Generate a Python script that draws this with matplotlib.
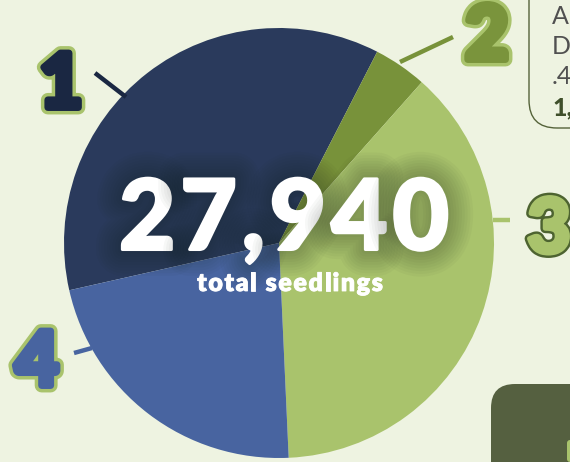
import matplotlib
matplotlib.use("Agg")
import numpy as np
import matplotlib.pyplot as plt
import matplotlib.patheffects as pe
from matplotlib.patches import FancyBboxPatch


# seedling counts per group
groups = ["1", "2", "3", "4"]
seedlings = [10080, 1120, 10540, 6200]
total_label = "27,940"
total_caption = "total seedlings"

colors = ["#2a3a5c", "#78923a", "#a9c36c", "#4864a0"]
label_fill = ["#1a2742", "#7a943c", "#a9c36c", "#4864a0"]
label_edge = ["#a9c36c", "#a9c36c", "#4d6330", "#a9c36c"]
bg = "#eef3e1"

# picture is laid out in pixels: pie centre and radius
W, H = 570, 462
CX, CY, R = 279, 243, 215


def px(x, y):
    # pixel position -> pie data units
    return (x - CX) / R, (CY - y) / R


def tracked_text(ax, xc, yc, s, track, **kw):
    # draw a string centred on (xc, yc) pixels with extra letter spacing
    rend = ax.figure.canvas.get_renderer()
    widths = []
    for ch in s:
        t = ax.text(0, 0, ch, **kw)
        widths.append(t.get_window_extent(rend).width)
        t.remove()
    total = sum(widths) + track * (len(s) - 1)
    x = xc - total / 2
    for ch, w in zip(s, widths):
        ax.text(*px(x, yc), ch, ha="left", va="center", **kw)
        x += w + track


fig = plt.figure(figsize=(W / 100, H / 100), dpi=100)
fig.patch.set_facecolor(bg)
ax = fig.add_axes([0, 0, 1, 1])
ax.set_facecolor(bg)

ax.pie(seedlings, colors=colors, startangle=192.7, counterclock=False,
       radius=1.0, wedgeprops=dict(linewidth=0, antialiased=True))

x0, y0 = px(0, H)
x1, y1 = px(W, 0)
ax.set_xlim(x0, x1)
ax.set_ylim(y0, y1)
ax.set_aspect("auto")
ax.axis("off")

# connector ticks and big numbered labels
ticks = [((126, 97), (95, 73)), ((400, 62), (453, 37)),
         ((493, 220), (510, 220)), ((92, 348), (74, 353))]
label_pos = [(61, 86), (487, 38), (549, 231), (37, 364)]
tick_col = ["#1a2742", "#78923a", "#a9c36c", "#4864a0"]

for i, g in enumerate(groups):
    (a, b), (c, d) = ticks[i]
    p0 = px(a, b)
    p1 = px(c, d)
    ax.plot([p0[0], p1[0]], [p0[1], p1[1]], color=tick_col[i], lw=3.2,
            solid_capstyle="butt", clip_on=False)
    lx, ly = px(*label_pos[i])
    if i == 2:
        fx = [pe.Stroke(linewidth=7, foreground=label_edge[i]),
              pe.Stroke(linewidth=3.5, foreground=label_fill[i]),
              pe.Normal()]
    else:
        fx = [pe.Stroke(linewidth=10, foreground=label_edge[i]),
              pe.Stroke(linewidth=5, foreground=label_fill[i]),
              pe.Normal()]
    ax.text(lx, ly, g, ha="center", va="center", fontsize=54,
            family="Lato", fontweight="black", color=label_fill[i],
            path_effects=fx)

# glow behind the total
glow = [pe.Stroke(linewidth=w, foreground="#1a2218", alpha=0.03)
        for w in range(38, 4, -4)]
tracked_text(ax, 284, 221, total_label, 5, fontsize=70, family="Lato",
             fontweight="black", color="white",
             path_effects=glow + [pe.Stroke(linewidth=2.2, foreground="white"),
                                  pe.Normal()])
tracked_text(ax, 290, 284, total_caption, 1.6, fontsize=18, family="Lato",
             fontweight="heavy", color="white",
             path_effects=[pe.Stroke(linewidth=0.6, foreground="white"),
                           pe.Normal()])

# side text box, top right (cut off by the edge)
bx, by = px(529, -40)
bw = 100 / R
bh = 168 / R
box = FancyBboxPatch((bx, by - bh), bw, bh,
                     boxstyle="round,pad=0,rounding_size=%f" % (28 / R),
                     fc="none", ec="#55633a", lw=1.0, clip_on=False)
ax.add_patch(box)
side_lines = ["A", "D", ".4", "1,"]
side_y = [16, 46, 77, 108]
for s, yy in zip(side_lines, side_y):
    sx, sy = px(552, yy)
    bold = s.startswith("1")
    ax.text(sx, sy, s, ha="left", va="center", fontsize=18, family="Lato",
            fontweight="black" if bold else "normal",
            color="#3f4f2a" if bold else "#505050")

# dark panel, bottom right
qx, qy = px(491, H + 40)
panel = FancyBboxPatch((qx, qy), 120 / R, (H + 40 - 384) / R,
                       boxstyle="round,pad=0,rounding_size=%f" % (24 / R),
                       fc="#556040", ec="none", clip_on=False)
ax.add_patch(panel)
gx, gy = px(567, H)
ax.add_patch(FancyBboxPatch((gx, gy), 10 / R, 22 / R,
                            boxstyle="round,pad=0,rounding_size=%f" % (3 / R),
                            fc="#a9c36c", ec="none", clip_on=False))

fig.savefig("out.png", dpi=100, facecolor=bg)
